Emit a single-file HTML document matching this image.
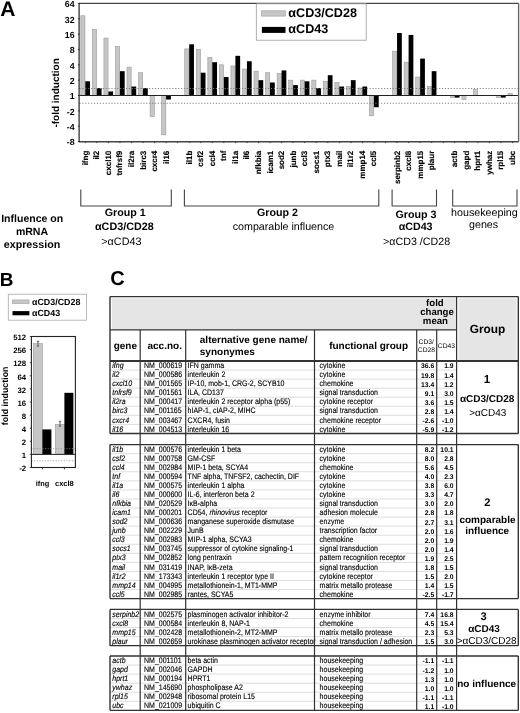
<!DOCTYPE html>
<html><head><meta charset="utf-8"><title>Figure</title>
<style>
html,body{margin:0;padding:0;background:#fff;}
body{width:520px;height:713px;overflow:hidden;}
.d{stroke:#000;stroke-width:0.12px;}
svg{display:block;font-family:"Liberation Sans", sans-serif;will-change:transform;-webkit-font-smoothing:antialiased;}
</style></head><body>
<svg width="520" height="713" viewBox="0 0 520 713" font-family='"Liberation Sans", sans-serif' text-rendering="geometricPrecision">
<rect width="520" height="713" fill="#fff"/>
<text x="0.30" y="15.80" font-size="21" font-weight="bold">A</text>
<line x1="85.27" y1="141.80" x2="85.27" y2="143.10" stroke="#333" stroke-width="1.0"/>
<rect x="80.82" y="15.78" width="4.15" height="79.72" fill="#c6c6c6" stroke="#9a9a9a" stroke-width="0.6"/>
<rect x="85.27" y="81.29" width="4.75" height="14.21" fill="#000"/>
<text transform="translate(87.77,150.7) rotate(-90)" font-size="8" font-weight="bold" text-anchor="end" class="d">ifng</text>
<line x1="96.82" y1="141.80" x2="96.82" y2="143.10" stroke="#333" stroke-width="1.0"/>
<rect x="92.37" y="29.38" width="4.15" height="66.12" fill="#c6c6c6" stroke="#9a9a9a" stroke-width="0.6"/>
<rect x="96.82" y="88.05" width="4.75" height="7.45" fill="#000"/>
<text transform="translate(99.32,150.7) rotate(-90)" font-size="8" font-weight="bold" text-anchor="end" class="d">il2</text>
<line x1="108.37" y1="141.80" x2="108.37" y2="143.10" stroke="#333" stroke-width="1.0"/>
<rect x="103.92" y="38.03" width="4.15" height="57.47" fill="#c6c6c6" stroke="#9a9a9a" stroke-width="0.6"/>
<rect x="108.37" y="91.46" width="4.75" height="4.04" fill="#000"/>
<text transform="translate(110.87,150.7) rotate(-90)" font-size="8" font-weight="bold" text-anchor="end" class="d">cxcl10</text>
<line x1="119.92" y1="141.80" x2="119.92" y2="143.10" stroke="#333" stroke-width="1.0"/>
<rect x="115.47" y="46.60" width="4.15" height="48.90" fill="#c6c6c6" stroke="#9a9a9a" stroke-width="0.6"/>
<rect x="119.92" y="71.17" width="4.75" height="24.33" fill="#000"/>
<text transform="translate(122.42,150.7) rotate(-90)" font-size="8" font-weight="bold" text-anchor="end" class="d">tnfrsf9</text>
<line x1="131.46" y1="141.80" x2="131.46" y2="143.10" stroke="#333" stroke-width="1.0"/>
<rect x="127.01" y="67.13" width="4.15" height="28.37" fill="#c6c6c6" stroke="#9a9a9a" stroke-width="0.6"/>
<rect x="131.46" y="86.52" width="4.75" height="8.98" fill="#000"/>
<text transform="translate(133.96,150.7) rotate(-90)" font-size="8" font-weight="bold" text-anchor="end" class="d">il2ra</text>
<line x1="143.01" y1="141.80" x2="143.01" y2="143.10" stroke="#333" stroke-width="1.0"/>
<rect x="138.56" y="72.70" width="4.15" height="22.80" fill="#c6c6c6" stroke="#9a9a9a" stroke-width="0.6"/>
<rect x="143.01" y="88.05" width="4.75" height="7.45" fill="#000"/>
<text transform="translate(145.51,150.7) rotate(-90)" font-size="8" font-weight="bold" text-anchor="end" class="d">birc3</text>
<line x1="154.56" y1="141.80" x2="154.56" y2="143.10" stroke="#333" stroke-width="1.0"/>
<rect x="150.11" y="95.50" width="4.15" height="21.16" fill="#c6c6c6" stroke="#9a9a9a" stroke-width="0.6"/>
<text transform="translate(157.06,150.7) rotate(-90)" font-size="8" font-weight="bold" text-anchor="end" class="d">cxcr4</text>
<line x1="166.11" y1="141.80" x2="166.11" y2="143.10" stroke="#333" stroke-width="1.0"/>
<rect x="161.66" y="95.50" width="4.15" height="39.31" fill="#c6c6c6" stroke="#9a9a9a" stroke-width="0.6"/>
<rect x="166.11" y="95.50" width="4.75" height="4.04" fill="#000"/>
<text transform="translate(168.61,150.7) rotate(-90)" font-size="8" font-weight="bold" text-anchor="end" class="d">il16</text>
<line x1="177.65" y1="141.80" x2="177.65" y2="143.10" stroke="#333" stroke-width="1.0"/>
<line x1="189.20" y1="141.80" x2="189.20" y2="143.10" stroke="#333" stroke-width="1.0"/>
<rect x="184.75" y="48.90" width="4.15" height="46.60" fill="#c6c6c6" stroke="#9a9a9a" stroke-width="0.6"/>
<rect x="189.20" y="44.29" width="4.75" height="51.21" fill="#000"/>
<text transform="translate(191.70,150.7) rotate(-90)" font-size="8" font-weight="bold" text-anchor="end" class="d">il1b</text>
<line x1="200.75" y1="141.80" x2="200.75" y2="143.10" stroke="#333" stroke-width="1.0"/>
<rect x="196.30" y="49.45" width="4.15" height="46.05" fill="#c6c6c6" stroke="#9a9a9a" stroke-width="0.6"/>
<rect x="200.75" y="72.70" width="4.75" height="22.80" fill="#000"/>
<text transform="translate(203.25,150.7) rotate(-90)" font-size="8" font-weight="bold" text-anchor="end" class="d">csf2</text>
<line x1="212.29" y1="141.80" x2="212.29" y2="143.10" stroke="#333" stroke-width="1.0"/>
<rect x="207.84" y="57.35" width="4.15" height="38.15" fill="#c6c6c6" stroke="#9a9a9a" stroke-width="0.6"/>
<rect x="212.29" y="62.19" width="4.75" height="33.31" fill="#000"/>
<text transform="translate(214.79,150.7) rotate(-90)" font-size="8" font-weight="bold" text-anchor="end" class="d">ccl4</text>
<line x1="223.84" y1="141.80" x2="223.84" y2="143.10" stroke="#333" stroke-width="1.0"/>
<rect x="219.39" y="64.80" width="4.15" height="30.70" fill="#c6c6c6" stroke="#9a9a9a" stroke-width="0.6"/>
<rect x="223.84" y="77.05" width="4.75" height="18.45" fill="#000"/>
<text transform="translate(226.34,150.7) rotate(-90)" font-size="8" font-weight="bold" text-anchor="end" class="d">tnf</text>
<line x1="235.39" y1="141.80" x2="235.39" y2="143.10" stroke="#333" stroke-width="1.0"/>
<rect x="230.94" y="65.94" width="4.15" height="29.56" fill="#c6c6c6" stroke="#9a9a9a" stroke-width="0.6"/>
<rect x="235.39" y="55.82" width="4.75" height="39.68" fill="#000"/>
<text transform="translate(237.89,150.7) rotate(-90)" font-size="8" font-weight="bold" text-anchor="end" class="d">il1a</text>
<line x1="246.94" y1="141.80" x2="246.94" y2="143.10" stroke="#333" stroke-width="1.0"/>
<rect x="242.49" y="69.06" width="4.15" height="26.44" fill="#c6c6c6" stroke="#9a9a9a" stroke-width="0.6"/>
<rect x="246.94" y="61.23" width="4.75" height="34.27" fill="#000"/>
<text transform="translate(249.44,150.7) rotate(-90)" font-size="8" font-weight="bold" text-anchor="end" class="d">il6</text>
<line x1="258.48" y1="141.80" x2="258.48" y2="143.10" stroke="#333" stroke-width="1.0"/>
<rect x="254.03" y="71.17" width="4.15" height="24.33" fill="#c6c6c6" stroke="#9a9a9a" stroke-width="0.6"/>
<rect x="258.48" y="80.15" width="4.75" height="15.35" fill="#000"/>
<text transform="translate(260.98,150.7) rotate(-90)" font-size="8" font-weight="bold" text-anchor="end" class="d">nfkbia</text>
<line x1="270.03" y1="141.80" x2="270.03" y2="143.10" stroke="#333" stroke-width="1.0"/>
<rect x="265.58" y="72.70" width="4.15" height="22.80" fill="#c6c6c6" stroke="#9a9a9a" stroke-width="0.6"/>
<rect x="270.03" y="82.48" width="4.75" height="13.02" fill="#000"/>
<text transform="translate(272.53,150.7) rotate(-90)" font-size="8" font-weight="bold" text-anchor="end" class="d">icam1</text>
<line x1="281.58" y1="141.80" x2="281.58" y2="143.10" stroke="#333" stroke-width="1.0"/>
<rect x="277.13" y="73.50" width="4.15" height="22.00" fill="#c6c6c6" stroke="#9a9a9a" stroke-width="0.6"/>
<rect x="281.58" y="70.44" width="4.75" height="25.06" fill="#000"/>
<text transform="translate(284.08,150.7) rotate(-90)" font-size="8" font-weight="bold" text-anchor="end" class="d">sod2</text>
<line x1="293.13" y1="141.80" x2="293.13" y2="143.10" stroke="#333" stroke-width="1.0"/>
<rect x="288.68" y="80.15" width="4.15" height="15.35" fill="#c6c6c6" stroke="#9a9a9a" stroke-width="0.6"/>
<rect x="293.13" y="85.09" width="4.75" height="10.41" fill="#000"/>
<text transform="translate(295.63,150.7) rotate(-90)" font-size="8" font-weight="bold" text-anchor="end" class="d">junb</text>
<line x1="304.67" y1="141.80" x2="304.67" y2="143.10" stroke="#333" stroke-width="1.0"/>
<rect x="300.22" y="80.15" width="4.15" height="15.35" fill="#c6c6c6" stroke="#9a9a9a" stroke-width="0.6"/>
<rect x="304.67" y="81.29" width="4.75" height="14.21" fill="#000"/>
<text transform="translate(307.17,150.7) rotate(-90)" font-size="8" font-weight="bold" text-anchor="end" class="d">ccl3</text>
<line x1="316.22" y1="141.80" x2="316.22" y2="143.10" stroke="#333" stroke-width="1.0"/>
<rect x="311.77" y="80.15" width="4.15" height="15.35" fill="#c6c6c6" stroke="#9a9a9a" stroke-width="0.6"/>
<rect x="316.22" y="88.05" width="4.75" height="7.45" fill="#000"/>
<text transform="translate(318.72,150.7) rotate(-90)" font-size="8" font-weight="bold" text-anchor="end" class="d">socs1</text>
<line x1="327.77" y1="141.80" x2="327.77" y2="143.10" stroke="#333" stroke-width="1.0"/>
<rect x="323.32" y="81.29" width="4.15" height="14.21" fill="#c6c6c6" stroke="#9a9a9a" stroke-width="0.6"/>
<rect x="327.77" y="75.21" width="4.75" height="20.29" fill="#000"/>
<text transform="translate(330.27,150.7) rotate(-90)" font-size="8" font-weight="bold" text-anchor="end" class="d">ptx3</text>
<line x1="339.32" y1="141.80" x2="339.32" y2="143.10" stroke="#333" stroke-width="1.0"/>
<rect x="334.87" y="82.48" width="4.15" height="13.02" fill="#c6c6c6" stroke="#9a9a9a" stroke-width="0.6"/>
<rect x="339.32" y="86.52" width="4.75" height="8.98" fill="#000"/>
<text transform="translate(341.82,150.7) rotate(-90)" font-size="8" font-weight="bold" text-anchor="end" class="d">mail</text>
<line x1="350.86" y1="141.80" x2="350.86" y2="143.10" stroke="#333" stroke-width="1.0"/>
<rect x="346.41" y="86.52" width="4.15" height="8.98" fill="#c6c6c6" stroke="#9a9a9a" stroke-width="0.6"/>
<rect x="350.86" y="80.15" width="4.75" height="15.35" fill="#000"/>
<text transform="translate(353.36,150.7) rotate(-90)" font-size="8" font-weight="bold" text-anchor="end" class="d">il1r2</text>
<line x1="362.41" y1="141.80" x2="362.41" y2="143.10" stroke="#333" stroke-width="1.0"/>
<rect x="357.96" y="88.05" width="4.15" height="7.45" fill="#c6c6c6" stroke="#9a9a9a" stroke-width="0.6"/>
<rect x="362.41" y="86.52" width="4.75" height="8.98" fill="#000"/>
<text transform="translate(364.91,150.7) rotate(-90)" font-size="8" font-weight="bold" text-anchor="end" class="d">mmp14</text>
<line x1="373.96" y1="141.80" x2="373.96" y2="143.10" stroke="#333" stroke-width="1.0"/>
<rect x="369.51" y="95.50" width="4.15" height="20.29" fill="#c6c6c6" stroke="#9a9a9a" stroke-width="0.6"/>
<rect x="373.96" y="95.50" width="4.75" height="11.75" fill="#000"/>
<text transform="translate(376.46,150.7) rotate(-90)" font-size="8" font-weight="bold" text-anchor="end" class="d">ccl5</text>
<line x1="385.51" y1="141.80" x2="385.51" y2="143.10" stroke="#333" stroke-width="1.0"/>
<line x1="397.05" y1="141.80" x2="397.05" y2="143.10" stroke="#333" stroke-width="1.0"/>
<rect x="392.60" y="51.18" width="4.15" height="44.32" fill="#c6c6c6" stroke="#9a9a9a" stroke-width="0.6"/>
<rect x="397.05" y="33.02" width="4.75" height="62.48" fill="#000"/>
<text transform="translate(399.55,150.7) rotate(-90)" font-size="8" font-weight="bold" text-anchor="end" class="d">serpinb2</text>
<line x1="408.60" y1="141.80" x2="408.60" y2="143.10" stroke="#333" stroke-width="1.0"/>
<rect x="404.15" y="62.19" width="4.15" height="33.31" fill="#c6c6c6" stroke="#9a9a9a" stroke-width="0.6"/>
<rect x="408.60" y="34.95" width="4.75" height="60.55" fill="#000"/>
<text transform="translate(411.10,150.7) rotate(-90)" font-size="8" font-weight="bold" text-anchor="end" class="d">cxcl8</text>
<line x1="420.15" y1="141.80" x2="420.15" y2="143.10" stroke="#333" stroke-width="1.0"/>
<rect x="415.70" y="77.05" width="4.15" height="18.45" fill="#c6c6c6" stroke="#9a9a9a" stroke-width="0.6"/>
<rect x="420.15" y="58.57" width="4.75" height="36.93" fill="#000"/>
<text transform="translate(422.65,150.7) rotate(-90)" font-size="8" font-weight="bold" text-anchor="end" class="d">mmp15</text>
<line x1="431.69" y1="141.80" x2="431.69" y2="143.10" stroke="#333" stroke-width="1.0"/>
<rect x="427.24" y="86.52" width="4.15" height="8.98" fill="#c6c6c6" stroke="#9a9a9a" stroke-width="0.6"/>
<rect x="431.69" y="71.17" width="4.75" height="24.33" fill="#000"/>
<text transform="translate(434.19,150.7) rotate(-90)" font-size="8" font-weight="bold" text-anchor="end" class="d">plaur</text>
<line x1="443.24" y1="141.80" x2="443.24" y2="143.10" stroke="#333" stroke-width="1.0"/>
<line x1="454.79" y1="141.80" x2="454.79" y2="143.10" stroke="#333" stroke-width="1.0"/>
<rect x="450.34" y="95.50" width="4.15" height="2.11" fill="#c6c6c6" stroke="#9a9a9a" stroke-width="0.6"/>
<rect x="454.79" y="95.50" width="4.75" height="2.11" fill="#000"/>
<text transform="translate(457.29,150.7) rotate(-90)" font-size="8" font-weight="bold" text-anchor="end" class="d">actb</text>
<line x1="466.34" y1="141.80" x2="466.34" y2="143.10" stroke="#333" stroke-width="1.0"/>
<rect x="461.89" y="95.50" width="4.15" height="4.04" fill="#c6c6c6" stroke="#9a9a9a" stroke-width="0.6"/>
<text transform="translate(468.84,150.7) rotate(-90)" font-size="8" font-weight="bold" text-anchor="end" class="d">gapd</text>
<line x1="477.88" y1="141.80" x2="477.88" y2="143.10" stroke="#333" stroke-width="1.0"/>
<rect x="473.43" y="89.69" width="4.15" height="5.81" fill="#c6c6c6" stroke="#9a9a9a" stroke-width="0.6"/>
<text transform="translate(480.38,150.7) rotate(-90)" font-size="8" font-weight="bold" text-anchor="end" class="d">hprt1</text>
<line x1="489.43" y1="141.80" x2="489.43" y2="143.10" stroke="#333" stroke-width="1.0"/>
<text transform="translate(491.93,150.7) rotate(-90)" font-size="8" font-weight="bold" text-anchor="end" class="d">ywhaz</text>
<line x1="500.98" y1="141.80" x2="500.98" y2="143.10" stroke="#333" stroke-width="1.0"/>
<rect x="496.53" y="95.50" width="4.15" height="2.11" fill="#c6c6c6" stroke="#9a9a9a" stroke-width="0.6"/>
<rect x="500.98" y="95.50" width="4.75" height="2.11" fill="#000"/>
<text transform="translate(503.48,150.7) rotate(-90)" font-size="8" font-weight="bold" text-anchor="end" class="d">rpl15</text>
<line x1="512.53" y1="141.80" x2="512.53" y2="143.10" stroke="#333" stroke-width="1.0"/>
<rect x="508.08" y="93.39" width="4.15" height="2.11" fill="#c6c6c6" stroke="#9a9a9a" stroke-width="0.6"/>
<text transform="translate(515.03,150.7) rotate(-90)" font-size="8" font-weight="bold" text-anchor="end" class="d">ubc</text>
<line x1="79.5" y1="88.5" x2="518.3" y2="88.5" stroke="#7a7a7a" stroke-width="0.9" stroke-dasharray="1.2 1.7"/>
<line x1="79.5" y1="103.3" x2="518.3" y2="103.3" stroke="#7a7a7a" stroke-width="0.9" stroke-dasharray="1.2 1.7"/>
<line x1="79.50" y1="95.50" x2="518.30" y2="95.50" stroke="#222" stroke-width="1.1"/>
<line x1="78.90" y1="3.40" x2="518.60" y2="3.40" stroke="#444" stroke-width="1.3"/>
<line x1="78.90" y1="141.80" x2="518.60" y2="141.80" stroke="#444" stroke-width="1.4"/>
<line x1="79.10" y1="3.40" x2="79.10" y2="141.80" stroke="#222" stroke-width="1.2"/>
<line x1="518.60" y1="3.40" x2="518.60" y2="141.80" stroke="#666" stroke-width="1.4"/>
<line x1="77.90" y1="3.40" x2="79.50" y2="3.40" stroke="#222" stroke-width="0.9"/>
<text x="74.60" y="7.30" font-size="8.8" font-weight="bold" text-anchor="end">64</text>
<line x1="77.90" y1="18.75" x2="79.50" y2="18.75" stroke="#222" stroke-width="0.9"/>
<text x="74.60" y="22.65" font-size="8.8" font-weight="bold" text-anchor="end">32</text>
<line x1="77.90" y1="34.10" x2="79.50" y2="34.10" stroke="#222" stroke-width="0.9"/>
<text x="74.60" y="38.00" font-size="8.8" font-weight="bold" text-anchor="end">16</text>
<line x1="77.90" y1="49.45" x2="79.50" y2="49.45" stroke="#222" stroke-width="0.9"/>
<text x="74.60" y="53.35" font-size="8.8" font-weight="bold" text-anchor="end">8</text>
<line x1="77.90" y1="64.80" x2="79.50" y2="64.80" stroke="#222" stroke-width="0.9"/>
<text x="74.60" y="68.70" font-size="8.8" font-weight="bold" text-anchor="end">4</text>
<line x1="77.90" y1="80.15" x2="79.50" y2="80.15" stroke="#222" stroke-width="0.9"/>
<text x="74.60" y="84.05" font-size="8.8" font-weight="bold" text-anchor="end">2</text>
<line x1="77.90" y1="95.50" x2="79.50" y2="95.50" stroke="#222" stroke-width="0.9"/>
<text x="74.60" y="99.40" font-size="8.8" font-weight="bold" text-anchor="end">1</text>
<line x1="77.90" y1="110.85" x2="79.50" y2="110.85" stroke="#222" stroke-width="0.9"/>
<text x="74.60" y="114.75" font-size="8.8" font-weight="bold" text-anchor="end">-2</text>
<line x1="77.90" y1="126.20" x2="79.50" y2="126.20" stroke="#222" stroke-width="0.9"/>
<text x="74.60" y="130.10" font-size="8.8" font-weight="bold" text-anchor="end">-4</text>
<line x1="77.90" y1="141.55" x2="79.50" y2="141.55" stroke="#222" stroke-width="0.9"/>
<text x="74.60" y="145.45" font-size="8.8" font-weight="bold" text-anchor="end">-8</text>
<text transform="translate(59,92.9) rotate(-90)" font-size="10" font-weight="bold" text-anchor="middle">-fold induction</text>
<rect x="256.30" y="3.80" width="109.90" height="36.40" fill="#fff" stroke="#9a9a9a" stroke-width="0.8"/>
<rect x="261.50" y="10.80" width="23.80" height="5.30" fill="#c6c6c6" stroke="#9a9a9a" stroke-width="0.6"/>
<rect x="261.90" y="26.90" width="23.60" height="6.00" fill="#000"/>
<text x="288.30" y="17.40" font-size="12.6" font-weight="bold">αCD3/CD28</text>
<text x="288.30" y="32.80" font-size="12.6" font-weight="bold">αCD43</text>
<path d="M80.8 189.6 V206.0 H171.3 V189.6" fill="none" stroke="#444" stroke-width="1.1"/>
<path d="M184.4 189.6 V206.0 H378.8 V189.6" fill="none" stroke="#444" stroke-width="1.1"/>
<path d="M392.1 189.6 V206.0 H436.5 V189.6" fill="none" stroke="#444" stroke-width="1.1"/>
<path d="M452.7 189.6 V206.0 H517.0 V189.6" fill="none" stroke="#444" stroke-width="1.1"/>
<text x="125.20" y="216.30" font-size="10.7" font-weight="bold" text-anchor="middle">Group 1</text>
<text x="124.40" y="230.40" font-size="10.8" font-weight="bold" text-anchor="middle">αCD3/CD28</text>
<text x="121.40" y="244.70" font-size="10.8" text-anchor="middle">&gt;αCD43</text>
<text x="277.40" y="216.00" font-size="10.7" font-weight="bold" text-anchor="middle">Group 2</text>
<text x="283.50" y="229.60" font-size="10.7" text-anchor="middle">comparable influence</text>
<text x="416.00" y="217.90" font-size="10.7" font-weight="bold" text-anchor="middle">Group 3</text>
<text x="415.60" y="229.90" font-size="10.7" font-weight="bold" text-anchor="middle">αCD43</text>
<text x="416.60" y="244.50" font-size="10.7" text-anchor="middle">&gt;αCD3 /CD28</text>
<text x="484.40" y="215.80" font-size="10.7" text-anchor="middle">housekeeping</text>
<text x="483.60" y="228.30" font-size="10.7" text-anchor="middle">genes</text>
<text x="32.20" y="222.00" font-size="10.55" font-weight="bold" text-anchor="middle">Influence on</text>
<text x="32.00" y="235.00" font-size="10.55" font-weight="bold" text-anchor="middle">mRNA</text>
<text x="32.00" y="247.80" font-size="10.7" font-weight="bold" text-anchor="middle">expression</text>
<text x="-0.30" y="285.60" font-size="19" font-weight="bold">B</text>
<rect x="8.30" y="294.20" width="78.20" height="26.00" fill="#fff" stroke="#a8a8a8" stroke-width="0.8"/>
<rect x="12.30" y="299.90" width="16.80" height="3.80" fill="#c6c6c6" stroke="#9a9a9a" stroke-width="0.5"/>
<rect x="12.50" y="311.10" width="16.90" height="4.20" fill="#000"/>
<text x="32.00" y="304.70" font-size="8.9" font-weight="bold">αCD3/CD28</text>
<text x="32.00" y="315.50" font-size="8.9" font-weight="bold">αCD43</text>
<rect x="33.30" y="343.69" width="9.00" height="110.71" fill="#c6c6c6" stroke="#9a9a9a" stroke-width="0.6"/>
<rect x="42.40" y="429.42" width="9.00" height="24.98" fill="#000"/>
<line x1="37.95" y1="341.30" x2="37.95" y2="346.20" stroke="#555" stroke-width="0.9"/>
<line x1="36.80" y1="341.30" x2="39.10" y2="341.30" stroke="#555" stroke-width="0.9"/>
<line x1="36.80" y1="346.20" x2="39.10" y2="346.20" stroke="#555" stroke-width="0.9"/>
<line x1="42.40" y1="467.50" x2="42.40" y2="469.30" stroke="#222" stroke-width="0.9"/>
<rect x="55.30" y="424.36" width="9.00" height="30.04" fill="#c6c6c6" stroke="#9a9a9a" stroke-width="0.6"/>
<rect x="64.40" y="392.82" width="9.00" height="61.58" fill="#000"/>
<line x1="59.95" y1="421.30" x2="59.95" y2="426.20" stroke="#555" stroke-width="0.9"/>
<line x1="58.80" y1="421.30" x2="61.10" y2="421.30" stroke="#555" stroke-width="0.9"/>
<line x1="58.80" y1="426.20" x2="61.10" y2="426.20" stroke="#555" stroke-width="0.9"/>
<line x1="64.40" y1="467.50" x2="64.40" y2="469.30" stroke="#222" stroke-width="0.9"/>
<line x1="31.4" y1="448.6" x2="75.4" y2="448.6" stroke="#8a8a8a" stroke-width="0.8" stroke-dasharray="1.1 1.6"/>
<line x1="31.4" y1="460.8" x2="75.4" y2="460.8" stroke="#8a8a8a" stroke-width="0.8" stroke-dasharray="1.1 1.6"/>
<line x1="31.40" y1="454.40" x2="75.40" y2="454.40" stroke="#222" stroke-width="1.0"/>
<rect x="31.4" y="336.50" width="44.00" height="131.00" fill="none" stroke="#222" stroke-width="1.1"/>
<line x1="29.80" y1="336.50" x2="31.40" y2="336.50" stroke="#222" stroke-width="0.8"/>
<text x="26.20" y="340.20" font-size="7.8" font-weight="bold" text-anchor="end">512</text>
<line x1="29.80" y1="349.60" x2="31.40" y2="349.60" stroke="#222" stroke-width="0.8"/>
<text x="26.20" y="353.30" font-size="7.8" font-weight="bold" text-anchor="end">256</text>
<line x1="29.80" y1="362.70" x2="31.40" y2="362.70" stroke="#222" stroke-width="0.8"/>
<text x="26.20" y="366.40" font-size="7.8" font-weight="bold" text-anchor="end">128</text>
<line x1="29.80" y1="375.80" x2="31.40" y2="375.80" stroke="#222" stroke-width="0.8"/>
<text x="26.20" y="379.50" font-size="7.8" font-weight="bold" text-anchor="end">64</text>
<line x1="29.80" y1="388.90" x2="31.40" y2="388.90" stroke="#222" stroke-width="0.8"/>
<text x="26.20" y="392.60" font-size="7.8" font-weight="bold" text-anchor="end">32</text>
<line x1="29.80" y1="402.00" x2="31.40" y2="402.00" stroke="#222" stroke-width="0.8"/>
<text x="26.20" y="405.70" font-size="7.8" font-weight="bold" text-anchor="end">16</text>
<line x1="29.80" y1="415.10" x2="31.40" y2="415.10" stroke="#222" stroke-width="0.8"/>
<text x="26.20" y="418.80" font-size="7.8" font-weight="bold" text-anchor="end">8</text>
<line x1="29.80" y1="428.20" x2="31.40" y2="428.20" stroke="#222" stroke-width="0.8"/>
<text x="26.20" y="431.90" font-size="7.8" font-weight="bold" text-anchor="end">4</text>
<line x1="29.80" y1="441.30" x2="31.40" y2="441.30" stroke="#222" stroke-width="0.8"/>
<text x="26.20" y="445.00" font-size="7.8" font-weight="bold" text-anchor="end">2</text>
<line x1="29.80" y1="454.40" x2="31.40" y2="454.40" stroke="#222" stroke-width="0.8"/>
<text x="26.20" y="458.10" font-size="7.8" font-weight="bold" text-anchor="end">1</text>
<line x1="29.80" y1="467.50" x2="31.40" y2="467.50" stroke="#222" stroke-width="0.8"/>
<text x="26.20" y="471.20" font-size="7.8" font-weight="bold" text-anchor="end">-2</text>
<text transform="translate(7.9,395.8) rotate(-90)" font-size="8.9" font-weight="bold" text-anchor="middle">fold induction</text>
<text x="42.40" y="485.60" font-size="7.4" font-weight="bold" text-anchor="middle">ifng</text>
<text x="64.40" y="485.60" font-size="7.5" font-weight="bold" text-anchor="middle">cxcl8</text>
<text x="110.30" y="284.90" font-size="20" font-weight="bold">C</text>
<rect x="111.90" y="298.40" width="344.70" height="31.40" fill="#e5e5e5"/>
<rect x="458.50" y="298.40" width="57.90" height="62.60" fill="#e5e5e5"/>
<text transform="translate(112.30,368.15) scale(1,1.15)" font-size="7.0" font-style="italic" class="d">ifng</text>
<text transform="translate(144.00,368.15) scale(1,1.15)" font-size="7.0" class="d">NM_000619</text>
<text transform="translate(187.60,368.15) scale(1,1.15)" font-size="7.0" class="d">IFN gamma</text>
<text transform="translate(319.60,368.15) scale(1,1.15)" font-size="7.0" class="d">cytokine</text>
<text x="434.30" y="368.45" font-size="6.8" font-weight="bold" text-anchor="end" class="v">36.6</text>
<text x="453.60" y="368.45" font-size="6.8" font-weight="bold" text-anchor="end" class="v">1.9</text>
<line x1="110.00" y1="370.06" x2="456.60" y2="370.06" stroke="#d0d0d0" stroke-width="0.7"/>
<text transform="translate(112.30,377.21) scale(1,1.15)" font-size="7.0" font-style="italic" class="d">il2</text>
<text transform="translate(144.00,377.21) scale(1,1.15)" font-size="7.0" class="d">NM_000586</text>
<text transform="translate(187.60,377.21) scale(1,1.15)" font-size="7.0" class="d">interleukin 2</text>
<text transform="translate(319.60,377.21) scale(1,1.15)" font-size="7.0" class="d">cytokine</text>
<text x="434.30" y="377.51" font-size="6.8" font-weight="bold" text-anchor="end" class="v">19.8</text>
<text x="453.60" y="377.51" font-size="6.8" font-weight="bold" text-anchor="end" class="v">1.4</text>
<line x1="110.00" y1="379.12" x2="456.60" y2="379.12" stroke="#d0d0d0" stroke-width="0.7"/>
<text transform="translate(112.30,386.27) scale(1,1.15)" font-size="7.0" font-style="italic" class="d">cxcl10</text>
<text transform="translate(144.00,386.27) scale(1,1.15)" font-size="7.0" class="d">NM_001565</text>
<text transform="translate(187.60,386.27) scale(1,1.15)" font-size="7.0" class="d">IP-10, mob-1, CRG-2,  SCYB10</text>
<text transform="translate(319.60,386.27) scale(1,1.15)" font-size="7.0" class="d">chemokine</text>
<text x="434.30" y="386.57" font-size="6.8" font-weight="bold" text-anchor="end" class="v">13.4</text>
<text x="453.60" y="386.57" font-size="6.8" font-weight="bold" text-anchor="end" class="v">1.2</text>
<line x1="110.00" y1="388.18" x2="456.60" y2="388.18" stroke="#d0d0d0" stroke-width="0.7"/>
<text transform="translate(112.30,395.33) scale(1,1.15)" font-size="7.0" font-style="italic" class="d">tnfrsf9</text>
<text transform="translate(144.00,395.33) scale(1,1.15)" font-size="7.0" class="d">NM_001561</text>
<text transform="translate(187.60,395.33) scale(1,1.15)" font-size="7.0" class="d">ILA, CD137</text>
<text transform="translate(319.60,395.33) scale(1,1.15)" font-size="7.0" class="d">signal transduction</text>
<text x="434.30" y="395.63" font-size="6.8" font-weight="bold" text-anchor="end" class="v">9.1</text>
<text x="453.60" y="395.63" font-size="6.8" font-weight="bold" text-anchor="end" class="v">3.0</text>
<line x1="110.00" y1="397.24" x2="456.60" y2="397.24" stroke="#d0d0d0" stroke-width="0.7"/>
<text transform="translate(112.30,404.39) scale(1,1.15)" font-size="7.0" font-style="italic" class="d">il2ra</text>
<text transform="translate(144.00,404.39) scale(1,1.15)" font-size="7.0" class="d">NM_000417</text>
<text transform="translate(187.60,404.39) scale(1,1.15)" font-size="7.0" class="d">interleukin 2 receptor alpha (p55)</text>
<text transform="translate(319.60,404.39) scale(1,1.15)" font-size="7.0" class="d">cytokine receptor</text>
<text x="434.30" y="404.69" font-size="6.8" font-weight="bold" text-anchor="end" class="v">3.6</text>
<text x="453.60" y="404.69" font-size="6.8" font-weight="bold" text-anchor="end" class="v">1.5</text>
<line x1="110.00" y1="406.30" x2="456.60" y2="406.30" stroke="#d0d0d0" stroke-width="0.7"/>
<text transform="translate(112.30,413.45) scale(1,1.15)" font-size="7.0" font-style="italic" class="d">birc3</text>
<text transform="translate(144.00,413.45) scale(1,1.15)" font-size="7.0" class="d">NM_001165</text>
<text transform="translate(187.60,413.45) scale(1,1.15)" font-size="7.0" class="d">hIAP-1, cIAP-2, MIHC</text>
<text transform="translate(319.60,413.45) scale(1,1.15)" font-size="7.0" class="d">signal transduction</text>
<text x="434.30" y="413.75" font-size="6.8" font-weight="bold" text-anchor="end" class="v">2.8</text>
<text x="453.60" y="413.75" font-size="6.8" font-weight="bold" text-anchor="end" class="v">1.4</text>
<line x1="110.00" y1="415.36" x2="456.60" y2="415.36" stroke="#d0d0d0" stroke-width="0.7"/>
<text transform="translate(112.30,422.51) scale(1,1.15)" font-size="7.0" font-style="italic" class="d">cxcr4</text>
<text transform="translate(144.00,422.51) scale(1,1.15)" font-size="7.0" class="d">NM_003467</text>
<text transform="translate(187.60,422.51) scale(1,1.15)" font-size="7.0" class="d">CXCR4, fusin</text>
<text transform="translate(319.60,422.51) scale(1,1.15)" font-size="7.0" class="d">chemokine receptor</text>
<text x="434.30" y="422.81" font-size="6.8" font-weight="bold" text-anchor="end" class="v">-2.6</text>
<text x="453.60" y="422.81" font-size="6.8" font-weight="bold" text-anchor="end" class="v">-1.0</text>
<line x1="110.00" y1="424.42" x2="456.60" y2="424.42" stroke="#d0d0d0" stroke-width="0.7"/>
<text transform="translate(112.30,431.57) scale(1,1.15)" font-size="7.0" font-style="italic" class="d">il16</text>
<text transform="translate(144.00,431.57) scale(1,1.15)" font-size="7.0" class="d">NM_004513</text>
<text transform="translate(187.60,431.57) scale(1,1.15)" font-size="7.0" class="d">interleukin 16</text>
<text transform="translate(319.60,431.57) scale(1,1.15)" font-size="7.0" class="d">cytokine</text>
<text x="434.30" y="431.87" font-size="6.8" font-weight="bold" text-anchor="end" class="v">-5.9</text>
<text x="453.60" y="431.87" font-size="6.8" font-weight="bold" text-anchor="end" class="v">-1.2</text>
<text transform="translate(112.30,451.75) scale(1,1.15)" font-size="7.0" font-style="italic" class="d">il1b</text>
<text transform="translate(144.00,451.75) scale(1,1.15)" font-size="7.0" class="d">NM_000576</text>
<text transform="translate(187.60,451.75) scale(1,1.15)" font-size="7.0" class="d">interleukin 1 beta</text>
<text transform="translate(319.60,451.75) scale(1,1.15)" font-size="7.0" class="d">cytokine</text>
<text x="434.30" y="452.05" font-size="6.8" font-weight="bold" text-anchor="end" class="v">8.2</text>
<text x="453.60" y="452.05" font-size="6.8" font-weight="bold" text-anchor="end" class="v">10.1</text>
<line x1="110.00" y1="453.66" x2="456.60" y2="453.66" stroke="#d0d0d0" stroke-width="0.7"/>
<text transform="translate(112.30,460.81) scale(1,1.15)" font-size="7.0" font-style="italic" class="d">csf2</text>
<text transform="translate(144.00,460.81) scale(1,1.15)" font-size="7.0" class="d">NM_000758</text>
<text transform="translate(187.60,460.81) scale(1,1.15)" font-size="7.0" class="d">GM-CSF</text>
<text transform="translate(319.60,460.81) scale(1,1.15)" font-size="7.0" class="d">cytokine</text>
<text x="434.30" y="461.11" font-size="6.8" font-weight="bold" text-anchor="end" class="v">8.0</text>
<text x="453.60" y="461.11" font-size="6.8" font-weight="bold" text-anchor="end" class="v">2.8</text>
<line x1="110.00" y1="462.72" x2="456.60" y2="462.72" stroke="#d0d0d0" stroke-width="0.7"/>
<text transform="translate(112.30,469.87) scale(1,1.15)" font-size="7.0" font-style="italic" class="d">ccl4</text>
<text transform="translate(144.00,469.87) scale(1,1.15)" font-size="7.0" class="d">NM_002984</text>
<text transform="translate(187.60,469.87) scale(1,1.15)" font-size="7.0" class="d">MIP-1 beta, SCYA4</text>
<text transform="translate(319.60,469.87) scale(1,1.15)" font-size="7.0" class="d">chemokine</text>
<text x="434.30" y="470.17" font-size="6.8" font-weight="bold" text-anchor="end" class="v">5.6</text>
<text x="453.60" y="470.17" font-size="6.8" font-weight="bold" text-anchor="end" class="v">4.5</text>
<line x1="110.00" y1="471.78" x2="456.60" y2="471.78" stroke="#d0d0d0" stroke-width="0.7"/>
<text transform="translate(112.30,478.93) scale(1,1.15)" font-size="7.0" font-style="italic" class="d">tnf</text>
<text transform="translate(144.00,478.93) scale(1,1.15)" font-size="7.0" class="d">NM_000594</text>
<text transform="translate(187.60,478.93) scale(1,1.15)" font-size="7.0" class="d">TNF alpha, TNFSF2, cachectin, DIF</text>
<text transform="translate(319.60,478.93) scale(1,1.15)" font-size="7.0" class="d">cytokine</text>
<text x="434.30" y="479.23" font-size="6.8" font-weight="bold" text-anchor="end" class="v">4.0</text>
<text x="453.60" y="479.23" font-size="6.8" font-weight="bold" text-anchor="end" class="v">2.3</text>
<line x1="110.00" y1="480.84" x2="456.60" y2="480.84" stroke="#d0d0d0" stroke-width="0.7"/>
<text transform="translate(112.30,487.99) scale(1,1.15)" font-size="7.0" font-style="italic" class="d">il1a</text>
<text transform="translate(144.00,487.99) scale(1,1.15)" font-size="7.0" class="d">NM_000575</text>
<text transform="translate(187.60,487.99) scale(1,1.15)" font-size="7.0" class="d">interleukin 1 alpha</text>
<text transform="translate(319.60,487.99) scale(1,1.15)" font-size="7.0" class="d">cytokine</text>
<text x="434.30" y="488.29" font-size="6.8" font-weight="bold" text-anchor="end" class="v">3.8</text>
<text x="453.60" y="488.29" font-size="6.8" font-weight="bold" text-anchor="end" class="v">6.0</text>
<line x1="110.00" y1="489.90" x2="456.60" y2="489.90" stroke="#d0d0d0" stroke-width="0.7"/>
<text transform="translate(112.30,497.05) scale(1,1.15)" font-size="7.0" font-style="italic" class="d">il6</text>
<text transform="translate(144.00,497.05) scale(1,1.15)" font-size="7.0" class="d">NM_000600</text>
<text transform="translate(187.60,497.05) scale(1,1.15)" font-size="7.0" class="d">IL-6, interferon beta 2</text>
<text transform="translate(319.60,497.05) scale(1,1.15)" font-size="7.0" class="d">cytokine</text>
<text x="434.30" y="497.35" font-size="6.8" font-weight="bold" text-anchor="end" class="v">3.3</text>
<text x="453.60" y="497.35" font-size="6.8" font-weight="bold" text-anchor="end" class="v">4.7</text>
<line x1="110.00" y1="498.96" x2="456.60" y2="498.96" stroke="#d0d0d0" stroke-width="0.7"/>
<text transform="translate(112.30,506.11) scale(1,1.15)" font-size="7.0" font-style="italic" class="d">nfkbia</text>
<text transform="translate(144.00,506.11) scale(1,1.15)" font-size="7.0" class="d">NM_020529</text>
<text transform="translate(187.60,506.11) scale(1,1.15)" font-size="7.0" class="d">IκB-alpha</text>
<text transform="translate(319.60,506.11) scale(1,1.15)" font-size="7.0" class="d">signal transduction</text>
<text x="434.30" y="506.41" font-size="6.8" font-weight="bold" text-anchor="end" class="v">3.0</text>
<text x="453.60" y="506.41" font-size="6.8" font-weight="bold" text-anchor="end" class="v">2.0</text>
<line x1="110.00" y1="508.02" x2="456.60" y2="508.02" stroke="#d0d0d0" stroke-width="0.7"/>
<text transform="translate(112.30,515.17) scale(1,1.15)" font-size="7.0" font-style="italic" class="d">icam1</text>
<text transform="translate(144.00,515.17) scale(1,1.15)" font-size="7.0" class="d">NM_000201</text>
<text transform="translate(187.60,515.17) scale(1,1.15)" font-size="7.0" class="d">CD54, <tspan font-style="italic">rhinovirus</tspan> receptor</text>
<text transform="translate(319.60,515.17) scale(1,1.15)" font-size="7.0" class="d">adhesion molecule</text>
<text x="434.30" y="515.47" font-size="6.8" font-weight="bold" text-anchor="end" class="v">2.8</text>
<text x="453.60" y="515.47" font-size="6.8" font-weight="bold" text-anchor="end" class="v">1.8</text>
<line x1="110.00" y1="517.08" x2="456.60" y2="517.08" stroke="#d0d0d0" stroke-width="0.7"/>
<text transform="translate(112.30,524.23) scale(1,1.15)" font-size="7.0" font-style="italic" class="d">sod2</text>
<text transform="translate(144.00,524.23) scale(1,1.15)" font-size="7.0" class="d">NM_000636</text>
<text transform="translate(187.60,524.23) scale(1,1.15)" font-size="7.0" class="d">manganese superoxide dismutase</text>
<text transform="translate(319.60,524.23) scale(1,1.15)" font-size="7.0" class="d">enzyme</text>
<text x="434.30" y="524.53" font-size="6.8" font-weight="bold" text-anchor="end" class="v">2.7</text>
<text x="453.60" y="524.53" font-size="6.8" font-weight="bold" text-anchor="end" class="v">3.1</text>
<line x1="110.00" y1="526.14" x2="456.60" y2="526.14" stroke="#d0d0d0" stroke-width="0.7"/>
<text transform="translate(112.30,533.29) scale(1,1.15)" font-size="7.0" font-style="italic" class="d">junb</text>
<text transform="translate(144.00,533.29) scale(1,1.15)" font-size="7.0" class="d">NM_002229</text>
<text transform="translate(187.60,533.29) scale(1,1.15)" font-size="7.0" class="d">JunB</text>
<text transform="translate(319.60,533.29) scale(1,1.15)" font-size="7.0" class="d">transcription factor</text>
<text x="434.30" y="533.59" font-size="6.8" font-weight="bold" text-anchor="end" class="v">2.0</text>
<text x="453.60" y="533.59" font-size="6.8" font-weight="bold" text-anchor="end" class="v">1.6</text>
<line x1="110.00" y1="535.20" x2="456.60" y2="535.20" stroke="#d0d0d0" stroke-width="0.7"/>
<text transform="translate(112.30,542.35) scale(1,1.15)" font-size="7.0" font-style="italic" class="d">ccl3</text>
<text transform="translate(144.00,542.35) scale(1,1.15)" font-size="7.0" class="d">NM_002983</text>
<text transform="translate(187.60,542.35) scale(1,1.15)" font-size="7.0" class="d">MIP-1 alpha, SCYA3</text>
<text transform="translate(319.60,542.35) scale(1,1.15)" font-size="7.0" class="d">chemokine</text>
<text x="434.30" y="542.65" font-size="6.8" font-weight="bold" text-anchor="end" class="v">2.0</text>
<text x="453.60" y="542.65" font-size="6.8" font-weight="bold" text-anchor="end" class="v">1.9</text>
<line x1="110.00" y1="544.26" x2="456.60" y2="544.26" stroke="#d0d0d0" stroke-width="0.7"/>
<text transform="translate(112.30,551.41) scale(1,1.15)" font-size="7.0" font-style="italic" class="d">socs1</text>
<text transform="translate(144.00,551.41) scale(1,1.15)" font-size="7.0" class="d">NM_003745</text>
<text transform="translate(187.60,551.41) scale(1,1.15)" font-size="7.0" class="d">suppressor of cytokine signaling-1</text>
<text transform="translate(319.60,551.41) scale(1,1.15)" font-size="7.0" class="d">signal transduction</text>
<text x="434.30" y="551.71" font-size="6.8" font-weight="bold" text-anchor="end" class="v">2.0</text>
<text x="453.60" y="551.71" font-size="6.8" font-weight="bold" text-anchor="end" class="v">1.4</text>
<line x1="110.00" y1="553.32" x2="456.60" y2="553.32" stroke="#d0d0d0" stroke-width="0.7"/>
<text transform="translate(112.30,560.47) scale(1,1.15)" font-size="7.0" font-style="italic" class="d">ptx3</text>
<text transform="translate(144.00,560.47) scale(1,1.15)" font-size="7.0" class="d">NM_002852</text>
<text transform="translate(187.60,560.47) scale(1,1.15)" font-size="7.0" class="d">long pentraxin</text>
<text transform="translate(319.60,560.47) scale(1,1.15)" font-size="7.0" class="d">pattern recognition receptor</text>
<text x="434.30" y="560.77" font-size="6.8" font-weight="bold" text-anchor="end" class="v">1.9</text>
<text x="453.60" y="560.77" font-size="6.8" font-weight="bold" text-anchor="end" class="v">2.5</text>
<line x1="110.00" y1="562.38" x2="456.60" y2="562.38" stroke="#d0d0d0" stroke-width="0.7"/>
<text transform="translate(112.30,569.53) scale(1,1.15)" font-size="7.0" font-style="italic" class="d">mail</text>
<text transform="translate(144.00,569.53) scale(1,1.15)" font-size="7.0" class="d">NM_031419</text>
<text transform="translate(187.60,569.53) scale(1,1.15)" font-size="7.0" class="d">INAP, IκB-zeta</text>
<text transform="translate(319.60,569.53) scale(1,1.15)" font-size="7.0" class="d">signal transduction</text>
<text x="434.30" y="569.83" font-size="6.8" font-weight="bold" text-anchor="end" class="v">1.8</text>
<text x="453.60" y="569.83" font-size="6.8" font-weight="bold" text-anchor="end" class="v">1.5</text>
<line x1="110.00" y1="571.44" x2="456.60" y2="571.44" stroke="#d0d0d0" stroke-width="0.7"/>
<text transform="translate(112.30,578.59) scale(1,1.15)" font-size="7.0" font-style="italic" class="d">il1r2</text>
<text transform="translate(144.00,578.59) scale(1,1.15)" font-size="7.0" class="d">NM_173343</text>
<text transform="translate(187.60,578.59) scale(1,1.15)" font-size="7.0" class="d">interleukin 1 receptor type II</text>
<text transform="translate(319.60,578.59) scale(1,1.15)" font-size="7.0" class="d">cytokine receptor</text>
<text x="434.30" y="578.89" font-size="6.8" font-weight="bold" text-anchor="end" class="v">1.5</text>
<text x="453.60" y="578.89" font-size="6.8" font-weight="bold" text-anchor="end" class="v">2.0</text>
<line x1="110.00" y1="580.50" x2="456.60" y2="580.50" stroke="#d0d0d0" stroke-width="0.7"/>
<text transform="translate(112.30,587.65) scale(1,1.15)" font-size="7.0" font-style="italic" class="d">mmp14</text>
<text transform="translate(144.00,587.65) scale(1,1.15)" font-size="7.0" class="d">NM_004995</text>
<text transform="translate(187.60,587.65) scale(1,1.15)" font-size="7.0" class="d">metallothionein-1, MT1-MMP</text>
<text transform="translate(319.60,587.65) scale(1,1.15)" font-size="7.0" class="d">matrix metallo protease</text>
<text x="434.30" y="587.95" font-size="6.8" font-weight="bold" text-anchor="end" class="v">1.4</text>
<text x="453.60" y="587.95" font-size="6.8" font-weight="bold" text-anchor="end" class="v">1.5</text>
<line x1="110.00" y1="589.56" x2="456.60" y2="589.56" stroke="#d0d0d0" stroke-width="0.7"/>
<text transform="translate(112.30,596.71) scale(1,1.15)" font-size="7.0" font-style="italic" class="d">ccl5</text>
<text transform="translate(144.00,596.71) scale(1,1.15)" font-size="7.0" class="d">NM_002985</text>
<text transform="translate(187.60,596.71) scale(1,1.15)" font-size="7.0" class="d">rantes, SCYA5</text>
<text transform="translate(319.60,596.71) scale(1,1.15)" font-size="7.0" class="d">chemokine</text>
<text x="434.30" y="597.01" font-size="6.8" font-weight="bold" text-anchor="end" class="v">-2.5</text>
<text x="453.60" y="597.01" font-size="6.8" font-weight="bold" text-anchor="end" class="v">-1.7</text>
<text transform="translate(112.30,616.55) scale(1,1.15)" font-size="7.0" font-style="italic" class="d">serpinb2</text>
<text transform="translate(144.00,616.55) scale(1,1.15)" font-size="7.0" class="d">NM_002575</text>
<text transform="translate(187.60,616.55) scale(1,1.15)" font-size="7.0" class="d">plasminogen activator inhibitor-2</text>
<text transform="translate(319.60,616.55) scale(1,1.15)" font-size="7.0" class="d">enzyme inhibitor</text>
<text x="434.30" y="616.85" font-size="6.8" font-weight="bold" text-anchor="end" class="v">7.4</text>
<text x="453.60" y="616.85" font-size="6.8" font-weight="bold" text-anchor="end" class="v">16.8</text>
<line x1="110.00" y1="618.46" x2="456.60" y2="618.46" stroke="#d0d0d0" stroke-width="0.7"/>
<text transform="translate(112.30,625.61) scale(1,1.15)" font-size="7.0" font-style="italic" class="d">cxcl8</text>
<text transform="translate(144.00,625.61) scale(1,1.15)" font-size="7.0" class="d">NM_000584</text>
<text transform="translate(187.60,625.61) scale(1,1.15)" font-size="7.0" class="d">interleukin 8, NAP-1</text>
<text transform="translate(319.60,625.61) scale(1,1.15)" font-size="7.0" class="d">chemokine</text>
<text x="434.30" y="625.91" font-size="6.8" font-weight="bold" text-anchor="end" class="v">4.5</text>
<text x="453.60" y="625.91" font-size="6.8" font-weight="bold" text-anchor="end" class="v">15.4</text>
<line x1="110.00" y1="627.52" x2="456.60" y2="627.52" stroke="#d0d0d0" stroke-width="0.7"/>
<text transform="translate(112.30,634.67) scale(1,1.15)" font-size="7.0" font-style="italic" class="d">mmp15</text>
<text transform="translate(144.00,634.67) scale(1,1.15)" font-size="7.0" class="d">NM_002428</text>
<text transform="translate(187.60,634.67) scale(1,1.15)" font-size="7.0" class="d">metallothionein-2, MT2-MMP</text>
<text transform="translate(319.60,634.67) scale(1,1.15)" font-size="7.0" class="d">matrix metallo protease</text>
<text x="434.30" y="634.97" font-size="6.8" font-weight="bold" text-anchor="end" class="v">2.3</text>
<text x="453.60" y="634.97" font-size="6.8" font-weight="bold" text-anchor="end" class="v">5.3</text>
<line x1="110.00" y1="636.58" x2="456.60" y2="636.58" stroke="#d0d0d0" stroke-width="0.7"/>
<text transform="translate(112.30,643.73) scale(1,1.15)" font-size="7.0" font-style="italic" class="d">plaur</text>
<text transform="translate(144.00,643.73) scale(1,1.15)" font-size="7.0" class="d">NM_002659</text>
<text transform="translate(187.60,643.73) scale(1,1.15)" font-size="7.0" class="d">urokinase plasminogen activator receptor</text>
<text transform="translate(319.60,643.73) scale(1,1.15)" font-size="7.0" class="d">signal transduction / adhesion</text>
<text x="434.30" y="644.03" font-size="6.8" font-weight="bold" text-anchor="end" class="v">1.5</text>
<text x="453.60" y="644.03" font-size="6.8" font-weight="bold" text-anchor="end" class="v">3.0</text>
<text transform="translate(112.30,663.15) scale(1,1.15)" font-size="7.0" font-style="italic" class="d">actb</text>
<text transform="translate(144.00,663.15) scale(1,1.15)" font-size="7.0" class="d">NM_001101</text>
<text transform="translate(187.60,663.15) scale(1,1.15)" font-size="7.0" class="d">beta actin</text>
<text transform="translate(319.60,663.15) scale(1,1.15)" font-size="7.0" class="d">housekeeping</text>
<text x="434.30" y="663.45" font-size="6.8" font-weight="bold" text-anchor="end" class="v">-1.1</text>
<text x="453.60" y="663.45" font-size="6.8" font-weight="bold" text-anchor="end" class="v">-1.1</text>
<line x1="110.00" y1="665.06" x2="456.60" y2="665.06" stroke="#d0d0d0" stroke-width="0.7"/>
<text transform="translate(112.30,672.21) scale(1,1.15)" font-size="7.0" font-style="italic" class="d">gapd</text>
<text transform="translate(144.00,672.21) scale(1,1.15)" font-size="7.0" class="d">NM_002046</text>
<text transform="translate(187.60,672.21) scale(1,1.15)" font-size="7.0" class="d">GAPDH</text>
<text transform="translate(319.60,672.21) scale(1,1.15)" font-size="7.0" class="d">housekeeping</text>
<text x="434.30" y="672.51" font-size="6.8" font-weight="bold" text-anchor="end" class="v">-1.2</text>
<text x="453.60" y="672.51" font-size="6.8" font-weight="bold" text-anchor="end" class="v">1.0</text>
<line x1="110.00" y1="674.12" x2="456.60" y2="674.12" stroke="#d0d0d0" stroke-width="0.7"/>
<text transform="translate(112.30,681.27) scale(1,1.15)" font-size="7.0" font-style="italic" class="d">hprt1</text>
<text transform="translate(144.00,681.27) scale(1,1.15)" font-size="7.0" class="d">NM_000194</text>
<text transform="translate(187.60,681.27) scale(1,1.15)" font-size="7.0" class="d">HPRT1</text>
<text transform="translate(319.60,681.27) scale(1,1.15)" font-size="7.0" class="d">housekeeping</text>
<text x="434.30" y="681.57" font-size="6.8" font-weight="bold" text-anchor="end" class="v">1.3</text>
<text x="453.60" y="681.57" font-size="6.8" font-weight="bold" text-anchor="end" class="v">1.0</text>
<line x1="110.00" y1="683.18" x2="456.60" y2="683.18" stroke="#d0d0d0" stroke-width="0.7"/>
<text transform="translate(112.30,690.33) scale(1,1.15)" font-size="7.0" font-style="italic" class="d">ywhaz</text>
<text transform="translate(144.00,690.33) scale(1,1.15)" font-size="7.0" class="d">NM_145690</text>
<text transform="translate(187.60,690.33) scale(1,1.15)" font-size="7.0" class="d">phospholipase A2</text>
<text transform="translate(319.60,690.33) scale(1,1.15)" font-size="7.0" class="d">housekeeping</text>
<text x="434.30" y="690.63" font-size="6.8" font-weight="bold" text-anchor="end" class="v">1.0</text>
<text x="453.60" y="690.63" font-size="6.8" font-weight="bold" text-anchor="end" class="v">1.0</text>
<line x1="110.00" y1="692.24" x2="456.60" y2="692.24" stroke="#d0d0d0" stroke-width="0.7"/>
<text transform="translate(112.30,699.39) scale(1,1.15)" font-size="7.0" font-style="italic" class="d">rpl15</text>
<text transform="translate(144.00,699.39) scale(1,1.15)" font-size="7.0" class="d">NM_002948</text>
<text transform="translate(187.60,699.39) scale(1,1.15)" font-size="7.0" class="d">ribosomal protein L15</text>
<text transform="translate(319.60,699.39) scale(1,1.15)" font-size="7.0" class="d">housekeeping</text>
<text x="434.30" y="699.69" font-size="6.8" font-weight="bold" text-anchor="end" class="v">-1.1</text>
<text x="453.60" y="699.69" font-size="6.8" font-weight="bold" text-anchor="end" class="v">-1.1</text>
<line x1="110.00" y1="701.30" x2="456.60" y2="701.30" stroke="#d0d0d0" stroke-width="0.7"/>
<text transform="translate(112.30,708.45) scale(1,1.15)" font-size="7.0" font-style="italic" class="d">ubc</text>
<text transform="translate(144.00,708.45) scale(1,1.15)" font-size="7.0" class="d">NM_021009</text>
<text transform="translate(187.60,708.45) scale(1,1.15)" font-size="7.0" class="d">ubiquitin C</text>
<text transform="translate(319.60,708.45) scale(1,1.15)" font-size="7.0" class="d">housekeeping</text>
<text x="434.30" y="708.75" font-size="6.8" font-weight="bold" text-anchor="end" class="v">1.1</text>
<text x="453.60" y="708.75" font-size="6.8" font-weight="bold" text-anchor="end" class="v">-1.0</text>
<line x1="140.20" y1="329.80" x2="140.20" y2="710.36" stroke="#333" stroke-width="1.2"/>
<line x1="185.70" y1="329.80" x2="185.70" y2="710.36" stroke="#333" stroke-width="1.2"/>
<line x1="314.50" y1="329.80" x2="314.50" y2="710.36" stroke="#333" stroke-width="1.2"/>
<line x1="416.70" y1="329.80" x2="416.70" y2="710.36" stroke="#333" stroke-width="1.2"/>
<line x1="436.70" y1="329.80" x2="436.70" y2="710.36" stroke="#333" stroke-width="1.2"/>
<line x1="456.60" y1="296.60" x2="456.60" y2="710.36" stroke="#333" stroke-width="1.2"/>
<line x1="416.70" y1="329.80" x2="416.70" y2="329.80" stroke="#333" stroke-width="1.2"/>
<line x1="110.00" y1="296.60" x2="110.00" y2="361.00" stroke="#333" stroke-width="1.4"/>
<line x1="518.30" y1="296.60" x2="518.30" y2="361.00" stroke="#333" stroke-width="1.4"/>
<line x1="110.00" y1="296.60" x2="518.30" y2="296.60" stroke="#333" stroke-width="1.4"/>
<line x1="110.00" y1="329.80" x2="456.60" y2="329.80" stroke="#333" stroke-width="1.2"/>
<line x1="110.00" y1="361.00" x2="518.30" y2="361.00" stroke="#333" stroke-width="2.0"/>
<line x1="110.00" y1="361.00" x2="110.00" y2="433.48" stroke="#333" stroke-width="1.4"/>
<line x1="518.30" y1="361.00" x2="518.30" y2="433.48" stroke="#333" stroke-width="1.4"/>
<line x1="110.00" y1="433.48" x2="518.30" y2="433.48" stroke="#333" stroke-width="1.4"/>
<line x1="110.00" y1="444.60" x2="110.00" y2="598.62" stroke="#333" stroke-width="1.4"/>
<line x1="518.30" y1="444.60" x2="518.30" y2="598.62" stroke="#333" stroke-width="1.4"/>
<line x1="110.00" y1="444.60" x2="518.30" y2="444.60" stroke="#333" stroke-width="1.4"/>
<line x1="110.00" y1="598.62" x2="518.30" y2="598.62" stroke="#333" stroke-width="1.4"/>
<line x1="110.00" y1="609.40" x2="110.00" y2="645.64" stroke="#333" stroke-width="1.4"/>
<line x1="518.30" y1="609.40" x2="518.30" y2="645.64" stroke="#333" stroke-width="1.4"/>
<line x1="110.00" y1="609.40" x2="518.30" y2="609.40" stroke="#333" stroke-width="1.4"/>
<line x1="110.00" y1="645.64" x2="518.30" y2="645.64" stroke="#333" stroke-width="1.4"/>
<line x1="110.00" y1="656.00" x2="110.00" y2="710.36" stroke="#333" stroke-width="1.4"/>
<line x1="518.30" y1="656.00" x2="518.30" y2="710.36" stroke="#333" stroke-width="1.4"/>
<line x1="110.00" y1="656.00" x2="518.30" y2="656.00" stroke="#333" stroke-width="1.4"/>
<line x1="110.00" y1="710.36" x2="518.30" y2="710.36" stroke="#333" stroke-width="1.4"/>
<text x="125.30" y="348.60" font-size="10" font-weight="bold" text-anchor="middle">gene</text>
<text x="164.70" y="349.00" font-size="10" font-weight="bold" text-anchor="middle">acc.no.</text>
<text x="199.80" y="343.30" font-size="10" font-weight="bold">alternative gene name/</text>
<text x="199.80" y="355.40" font-size="10" font-weight="bold">synonymes</text>
<text x="368.60" y="349.20" font-size="10" font-weight="bold" text-anchor="middle">functional group</text>
<text x="434.90" y="306.20" font-size="9.6" font-weight="bold" text-anchor="middle">fold</text>
<text x="437.00" y="315.20" font-size="9.6" font-weight="bold" text-anchor="middle">change</text>
<text x="435.40" y="324.30" font-size="9.6" font-weight="bold" text-anchor="middle">mean</text>
<text x="426.20" y="343.60" font-size="6.7" text-anchor="middle">CD3/</text>
<text x="426.40" y="352.30" font-size="6.7" text-anchor="middle">CD28</text>
<text x="446.40" y="348.20" font-size="6.7" text-anchor="middle">CD43</text>
<text x="487.50" y="333.00" font-size="11.9" font-weight="bold" text-anchor="middle">Group</text>
<text x="487.00" y="383.30" font-size="11.5" font-weight="bold" text-anchor="middle">1</text>
<text x="487.20" y="401.70" font-size="10" font-weight="bold" text-anchor="middle">αCD3/CD28</text>
<text x="487.80" y="415.80" font-size="10" text-anchor="middle">&gt;αCD43</text>
<text x="487.20" y="505.70" font-size="11" font-weight="bold" text-anchor="middle">2</text>
<text x="487.50" y="522.80" font-size="10" font-weight="bold" text-anchor="middle">comparable</text>
<text x="487.20" y="534.20" font-size="10" font-weight="bold" text-anchor="middle">influence</text>
<text x="483.60" y="619.90" font-size="11" font-weight="bold" text-anchor="middle">3</text>
<text x="484.00" y="632.10" font-size="10" font-weight="bold" text-anchor="middle">αCD43</text>
<text x="486.70" y="643.70" font-size="10" text-anchor="middle">&gt;αCD3/CD28</text>
<text x="486.70" y="686.90" font-size="10" font-weight="bold" text-anchor="middle">no influence</text>
</svg>
</body></html>
